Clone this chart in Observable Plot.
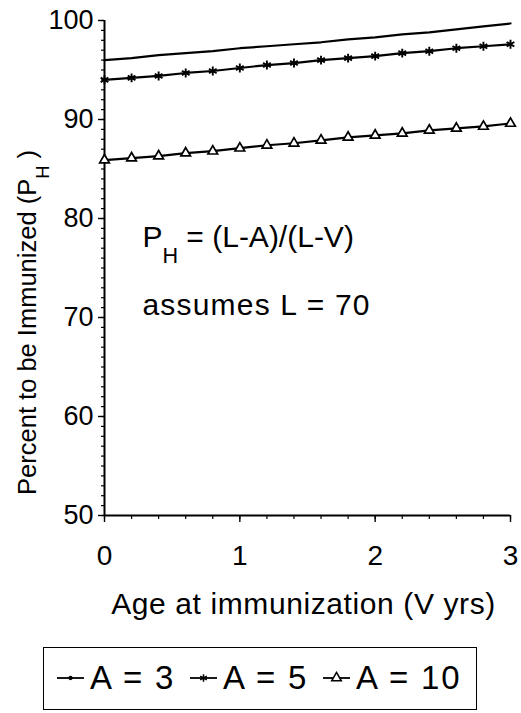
<!DOCTYPE html>
<html>
<head>
<meta charset="utf-8">
<script src="https://cdn.jsdelivr.net/npm/d3@7"></script>
<script src="https://cdn.jsdelivr.net/npm/@observablehq/plot@0.6"></script>
<style>
  html, body { margin: 0; padding: 0; background: white; }
  #wrap { position: relative; width: 521px; height: 713px; font-family: "Liberation Sans", Arial, sans-serif; }
  #legend { position: absolute; left: 43px; top: 647px; width: 434px; height: 63px; border: 1.5px solid black;
            font-size: 33px; color: black; box-sizing: border-box; }
  #legend .item { position: absolute; top: 0; height: 60px; display: flex; align-items: center; letter-spacing: 1.8px; white-space: nowrap; }
  #legend svg { margin-right: 6px; }
</style>
</head>
<body>
<div id="wrap"></div>
<script>
// ---- data ----
const ageV  = [0, 0.2, 0.4, 0.6, 0.8, 1.0, 1.2, 1.4, 1.6, 1.8, 2.0, 2.2, 2.4, 2.6, 2.8, 3.0];
const pA3   = [96.0, 96.2, 96.5, 96.7, 96.9, 97.2, 97.4, 97.6, 97.8, 98.1, 98.3, 98.6, 98.8, 99.1, 99.4, 99.7];
const pA5   = [94.0, 94.2, 94.4, 94.7, 94.9, 95.2, 95.5, 95.7, 96.0, 96.2, 96.4, 96.7, 96.9, 97.2, 97.4, 97.6];
const pA10  = [85.9, 86.1, 86.3, 86.6, 86.8, 87.1, 87.4, 87.6, 87.9, 88.2, 88.4, 88.6, 88.9, 89.1, 89.3, 89.6];
const seriesNames = ["A = 3", "A = 5", "A = 10"];
const xTicks = [0, 1, 2, 3];
const yTicks = [50, 60, 70, 80, 90, 100];
const xTitle = "Age at immunization (V yrs)";
const yTitle = "Percent to be Immunized (P_H )";
const notes = [
  {x: 0.28, y: 77.1, text: "P_H = (L-A)/(L-V)", spacing: 0},
  {x: 0.28, y: 70.3, text: "assumes L = 70", spacing: 1.2}
];

const xMinor = d3.range(0, 3.0001, 0.2);
const yMinor = d3.range(50, 100.001, 1);

const rows = [];
[pA3, pA5, pA10].forEach((vals, i) => vals.forEach((v, j) => rows.push({series: seriesNames[i], V: ageV[j], P: v})));
const rowsA5 = rows.filter(d => d.series === "A = 5");
const rowsA10 = rows.filter(d => d.series === "A = 10");

const chart = Plot.plot({
  width: 521,
  height: 640,
  marginLeft: 104,
  marginRight: 11,
  marginTop: 20,
  marginBottom: 125,
  style: {fontFamily: "'Liberation Sans', Arial, sans-serif", color: "black", background: "white", overflow: "visible"},
  x: {domain: [0, 3], label: null},
  y: {domain: [50, 100], label: null},
  marks: [
    Plot.axisY(yMinor, {tickSize: 3, text: null, strokeWidth: 1.2, label: null}),
    Plot.axisY(yTicks, {tickSize: 6, tickPadding: 5, fontSize: 27, strokeWidth: 1.4, label: null, tickFormat: d3.format("d")}),
    Plot.axisX(xMinor, {tickSize: 4, text: null, strokeWidth: 1.2, label: null}),
    Plot.axisX(xTicks, {tickSize: 7, tickPadding: 23, fontSize: 28, strokeWidth: 1.4, label: null, tickFormat: d3.format("d")}),
    Plot.ruleX([0], {strokeWidth: 2}),
    Plot.ruleY([50], {strokeWidth: 2}),
    Plot.line(rows, {x: "V", y: "P", z: "series", stroke: "black", strokeWidth: 2.2}),
    Plot.dot(rowsA5, {x: "V", y: "P", symbol: "asterisk", r: 4.2, stroke: "black", strokeWidth: 1.9}),
    Plot.dot(rowsA10, {x: "V", y: "P", symbol: "triangle", r: 3.6, fill: "white", stroke: "black", strokeWidth: 1.7}),
    Plot.text(notes, {x: "x", y: "y", text: "text", textAnchor: "start", lineAnchor: "bottom", fontSize: 30, fill: "black"}),
    Plot.text([xTitle], {frameAnchor: "bottom", dy: 98, dx: -4, lineAnchor: "bottom", fontSize: 30, fill: "black"}),
    Plot.text([yTitle], {frameAnchor: "left", y: [69.5], dx: -77, rotate: -90, textAnchor: "middle", lineAnchor: "middle", fontSize: 25.5, fill: "black"})
  ]
});

// subscripts (explicit sizes)
d3.select(chart).selectAll("text").each(function() {
  const t = this.textContent;
  if (t === "assumes L = 70") d3.select(this).attr("letter-spacing", "1.2px");
  if (!t.includes("_H")) return;
  const isTitle = t.startsWith("Percent");
  const fs = isTitle ? 25.5 : 30;
  const [pre, post] = t.split("_H");
  const el = d3.select(this);
  el.text(null);
  const sub = fs * 0.72;
  const shift = fs * 0.52;
  el.append("tspan").text(pre);
  el.append("tspan").attr("dy", shift).attr("font-size", sub).text("H");
  el.append("tspan").attr("dy", -shift).text(post);
});
// slight widening of the x title
d3.select(chart).selectAll("text").filter(function() { return this.textContent === xTitle; }).attr("letter-spacing", "0.6px");

document.getElementById("wrap").appendChild(chart);

// legend
const legend = document.createElement("div");
legend.id = "legend";
const symbols = ["none", "asterisk", "triangle"];
const itemLeft = [13, 146, 279];
seriesNames.forEach((name, i) => {
  const item = document.createElement("div");
  item.className = "item";
  item.style.left = itemLeft[i] + "px";
  const s = d3.create("svg").attr("width", 27).attr("height", 14);
  s.append("line").attr("x1", 0).attr("x2", 27).attr("y1", 7).attr("y2", 7).attr("stroke", "black").attr("stroke-width", 1.8);
  const sym = symbols[i] === "asterisk" ? d3.symbolAsterisk : symbols[i] === "triangle" ? d3.symbolTriangle : d3.symbolCircle;
  const size = symbols[i] === "none" ? 6 : 40;
  s.append("path").attr("transform", "translate(13.5,7)").attr("d", d3.symbol(sym, size)())
    .attr("fill", symbols[i] === "triangle" ? "white" : "black").attr("stroke", "black").attr("stroke-width", 1.5);
  item.appendChild(s.node());
  const label = document.createElement("span");
  label.textContent = name;
  item.appendChild(label);
  legend.appendChild(item);
});
document.getElementById("wrap").appendChild(legend);
</script>
</body>
</html>
